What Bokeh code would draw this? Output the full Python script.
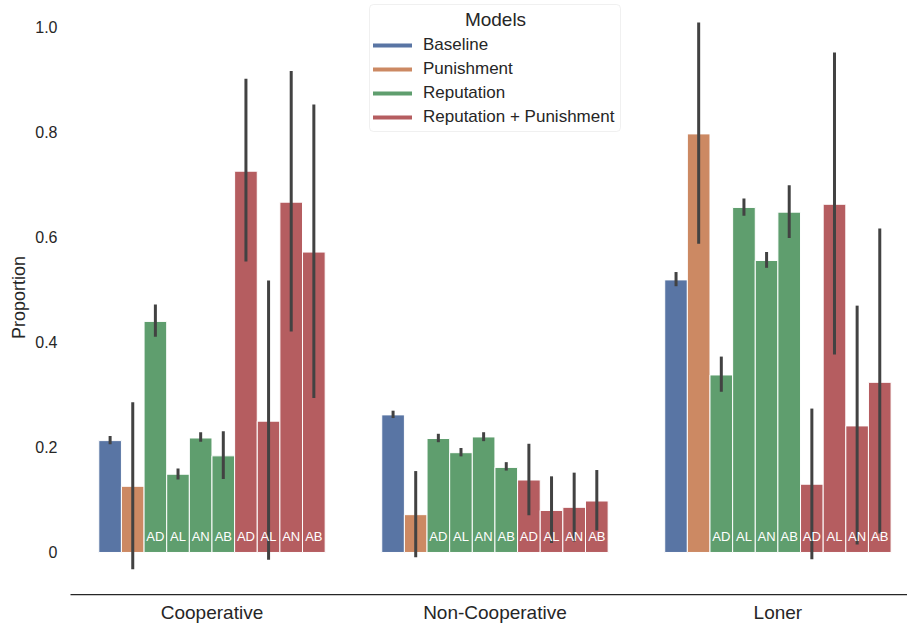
from bokeh.plotting import figure
from bokeh.models import (ColumnDataSource, FixedTicker, Legend, LegendItem, Range1d,
                          BoxAnnotation, Label)
from bokeh.core.properties import value
from bokeh.embed import file_html
from bokeh.resources import INLINE

# ---- data ----
categories = ["Cooperative", "Non-Cooperative", "Loner"]
models = ["Baseline", "Punishment", "Reputation", "Reputation + Punishment"]
variant_model = ["Baseline", "Punishment",
                 "Reputation", "Reputation", "Reputation", "Reputation",
                 "Reputation + Punishment", "Reputation + Punishment",
                 "Reputation + Punishment", "Reputation + Punishment"]
variant_labels = ["", "", "AD", "AL", "AN", "AB", "AD", "AL", "AN", "AB"]

coop_mean = [0.213, 0.126, 0.440, 0.149, 0.218, 0.184, 0.726, 0.250, 0.667, 0.572]
coop_lo = [0.206, -0.032, 0.411, 0.139, 0.211, 0.140, 0.554, -0.014, 0.421, 0.294]
coop_hi = [0.222, 0.286, 0.472, 0.160, 0.229, 0.231, 0.902, 0.518, 0.917, 0.853]

noncoop_mean = [0.262, 0.072, 0.217, 0.190, 0.220, 0.162, 0.138, 0.080, 0.086, 0.098]
noncoop_lo = [0.256, -0.009, 0.210, 0.183, 0.212, 0.156, 0.071, 0.018, 0.021, 0.042]
noncoop_hi = [0.270, 0.155, 0.226, 0.199, 0.229, 0.172, 0.207, 0.145, 0.152, 0.157]

loner_mean = [0.519, 0.797, 0.338, 0.657, 0.556, 0.648, 0.130, 0.663, 0.241, 0.324]
loner_lo = [0.507, 0.588, 0.306, 0.641, 0.542, 0.599, -0.013, 0.377, 0.015, 0.036]
loner_hi = [0.534, 1.009, 0.373, 0.674, 0.572, 0.699, 0.274, 0.952, 0.470, 0.617]

y_ticks = [0, 0.2, 0.4, 0.6, 0.8, 1.0]
y_tick_labels = ["0", "0.2", "0.4", "0.6", "0.8", "1.0"]

# ---- styles ----
model_colors = {"Baseline": "#5975a4", "Punishment": "#cc8963",
                "Reputation": "#5f9e6e", "Reputation + Punishment": "#b55d60"}
FONT = "Liberation Sans"
TXT = "#262626"
n_var = len(variant_model)
bar_w = 0.8 / n_var

means = [coop_mean, noncoop_mean, loner_mean]
los = [coop_lo, noncoop_lo, loner_lo]
his = [coop_hi, noncoop_hi, loner_hi]

xs, tops, lo_all, hi_all, colors, labels = [], [], [], [], [], []
for g in range(len(categories)):
    for i in range(n_var):
        xs.append(g + (i - (n_var - 1) / 2) * bar_w)
        tops.append(means[g][i])
        lo_all.append(los[g][i])
        hi_all.append(his[g][i])
        colors.append(model_colors[variant_model[i]])
        labels.append(variant_labels[i])

src = ColumnDataSource(dict(x=xs, top=tops, lo=lo_all, hi=hi_all, color=colors, label=labels))

p = figure(width=907, height=625, output_backend="svg", toolbar_location=None,
           x_range=Range1d(-0.5, 2.458), y_range=Range1d(-0.08, 1.051),
           min_border_left=70, min_border_right=0, min_border_top=0, min_border_bottom=0)
p.outline_line_color = None
p.grid.visible = False
p.background_fill_color = "white"
p.border_fill_color = "white"

p.vbar(x="x", top="top", bottom=0, width=bar_w, source=src, fill_color="color",
       line_color="white", line_width=1)
p.segment(x0="x", y0="lo", x1="x", y1="hi", source=src, line_color="#424242", line_width=3)

lab_src = ColumnDataSource(dict(
    x=[x for x, l in zip(xs, labels) if l],
    y=[0 for l in labels if l],
    text=[l for l in labels if l]))
p.text(x="x", y="y", text="text", source=lab_src, text_color="white",
       text_font=value(FONT), text_font_size="13px", text_align="center",
       text_baseline="middle", y_offset=-16)

# axes
xa = p.xaxis[0]
xa.ticker = FixedTicker(ticks=list(range(len(categories))))
xa.major_label_overrides = {i: c for i, c in enumerate(categories)}
xa.major_tick_out = 0
xa.major_tick_in = 0
xa.minor_tick_out = 0
xa.minor_tick_in = 0
xa.axis_line_color = TXT
xa.axis_line_width = 1.25
xa.major_label_text_font = FONT
xa.major_label_text_font_size = "19px"
xa.major_label_text_color = TXT
xa.major_label_standoff = 7

ya = p.yaxis[0]
ya.ticker = FixedTicker(ticks=y_ticks)
ya.major_label_overrides = {t: l for t, l in zip(y_ticks, y_tick_labels)}
ya.axis_line_color = None
ya.major_tick_out = 0
ya.major_tick_in = 0
ya.minor_tick_out = 0
ya.minor_tick_in = 0
ya.major_label_text_font = FONT
ya.major_label_text_font_size = "16px"
ya.major_label_text_color = TXT
ya.major_label_standoff = 13
ya.axis_label = "Proportion"
ya.axis_label_text_font = FONT
ya.axis_label_text_font_size = "18px"
ya.axis_label_text_font_style = "normal"
ya.axis_label_text_color = TXT
ya.axis_label_standoff = 3

# legend frame (screen units, relative to plot frame bottom-left)
legend_box = BoxAnnotation(left=299, right=550, top=590, bottom=463,
                           left_units="screen", right_units="screen",
                           top_units="screen", bottom_units="screen",
                           fill_color="white", fill_alpha=0.8,
                           line_color="#cccccc", line_width=1, border_radius=4)
p.add_layout(legend_box)
p.add_layout(Label(x=425, y=575, x_units="screen", y_units="screen", text="Models",
                   text_font=FONT, text_font_size="19px", text_color=TXT,
                   text_align="center", text_baseline="middle"))

# legend keys (line glyphs used only as legend keys, no data drawn)
nan = float("nan")
items = []
for m in models:
    r = p.line(x=[nan], y=[nan], line_color=model_colors[m], line_width=4, line_cap="round")
    items.append(LegendItem(label=m, renderers=[r]))
legend = Legend(items=items, location=(303, 467),
                label_text_font=FONT, label_text_font_size="17px", label_text_color=TXT,
                glyph_width=39, glyph_height=20, label_height=20, label_standoff=11,
                spacing=4, padding=0, margin=0,
                border_line_color=None, background_fill_alpha=0)
p.add_layout(legend)

open("out.html", "w").write(file_html(p, INLINE))
